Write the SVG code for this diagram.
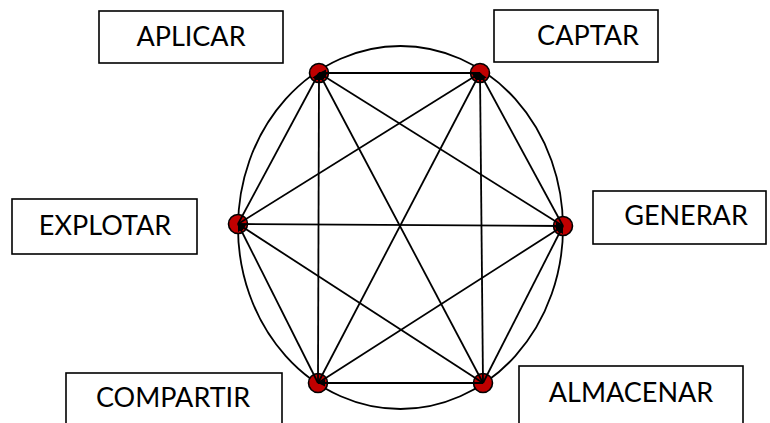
<svg xmlns="http://www.w3.org/2000/svg" width="770" height="423" viewBox="0 0 770 423">
<style>
.box{fill:#fff;stroke:#000;stroke-width:1.6}
.lbl{font-family:Lato,"Open Sans","Liberation Sans",sans-serif;font-size:27px;fill:#000;text-anchor:middle}
.dot{fill:#c00000;stroke:#000;stroke-width:1.6}
.edge{stroke:#000;stroke-width:1.8;fill:none}
</style>
<defs>
<marker id="ah" viewBox="0 0 10 10" refX="10" refY="5" markerWidth="4" markerHeight="4" orient="auto" markerUnits="strokeWidth">
<path d="M0,0 L10,5 L0,10 z" fill="#000"/>
</marker>
</defs>
<rect width="770" height="423" fill="#fff"/>
<ellipse cx="400.5" cy="227.5" rx="162.5" ry="181.5" fill="none" stroke="#000" stroke-width="1.8"/>
<g id="aplicar">
<rect class="box" x="99" y="11" width="184" height="52"/>
<text class="lbl" x="191" y="46">APLICAR</text>
<circle class="dot" cx="319" cy="73" r="9.5"/>
</g>
<g id="captar">
<rect class="box" x="494" y="10" width="164" height="52"/>
<text class="lbl" x="588" y="45">CAPTAR</text>
<circle class="dot" cx="480" cy="73" r="9.5"/>
</g>
<g id="generar">
<rect class="box" x="593" y="191" width="173" height="53"/>
<text class="lbl" x="686" y="225">GENERAR</text>
<circle class="dot" cx="563" cy="226" r="9.5"/>
</g>
<g id="explotar">
<rect class="box" x="12" y="199" width="185" height="55"/>
<text class="lbl" x="105" y="235">EXPLOTAR</text>
<circle class="dot" cx="238" cy="224" r="9.5"/>
</g>
<g id="compartir">
<rect class="box" x="66" y="373" width="216" height="60"/>
<text class="lbl" x="173" y="407">COMPARTIR</text>
<circle class="dot" cx="318" cy="383" r="9.5"/>
</g>
<g id="almacenar">
<rect class="box" x="519" y="366" width="224" height="60"/>
<text class="lbl" x="631" y="402">ALMACENAR</text>
<circle class="dot" cx="483" cy="383" r="9.5"/>
</g>
<g id="connectors" class="edge" marker-end="url(#ah)">
<line x1="480" y1="73" x2="319" y2="73"/>
<line x1="563" y1="226" x2="319" y2="73"/>
<line x1="238" y1="224" x2="319" y2="73"/>
<line x1="318" y1="383" x2="319" y2="73"/>
<line x1="483" y1="383" x2="319" y2="73"/>
<line x1="319" y1="73" x2="480" y2="73" marker-end="none"/>
<line x1="238" y1="224" x2="480" y2="73"/>
<line x1="318" y1="383" x2="480" y2="73"/>
<line x1="483" y1="383" x2="480" y2="73"/>
<line x1="563" y1="226" x2="480" y2="73"/>
<line x1="238" y1="224" x2="563" y2="226"/>
<line x1="318" y1="383" x2="563" y2="226"/>
<line x1="483" y1="383" x2="563" y2="226"/>
<line x1="318" y1="383" x2="238" y2="224"/>
<line x1="483" y1="383" x2="238" y2="224"/>
<line x1="483" y1="383" x2="318" y2="383"/>
</g>
</svg>
